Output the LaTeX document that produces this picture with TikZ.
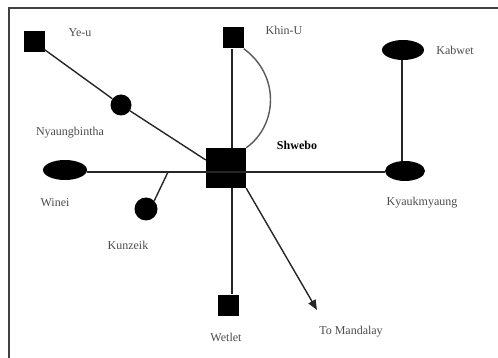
\documentclass[tikz,border=0pt]{standalone}
\usepackage{fontspec}
\setmainfont{Liberation Serif}
\usetikzlibrary{arrows.meta, shapes.geometric}

\tikzset{
  sq/.style={rectangle, fill=black, minimum size=21pt, inner sep=0pt},
  bigsq/.style={rectangle, fill=black, minimum size=40pt, inner sep=0pt},
  dot/.style={circle, fill=black, minimum size=21pt, inner sep=0pt},
  oval/.style={ellipse, fill=black, minimum width=42pt, minimum height=20pt, inner sep=0pt},
  lbl/.style={font=\fontsize{12}{14}\selectfont, text=black!70, inner sep=0pt},
  road/.style={line width=1.4pt, black!85}
}

\begin{document}
\begin{tikzpicture}[x=1pt, y=-1pt]
  \useasboundingbox (0,0) rectangle (498,358);

  % Frame
  \draw[line width=1.4pt, black!75] (9,358) -- (9,8) -- (498,8);

  % Towns
  \node[bigsq] (shwebo) at (226,168) {};
  \node[sq] (yeu) at (34,42) {};
  \node[dot] (nyaung) at (121,105) {};
  \node[sq] (khinu) at (233,38) {};
  \node[oval, minimum width=42pt] (kabwet) at (403,50) {};
  \node[oval, minimum width=40pt] (kyauk) at (405,171) {};
  \node[oval, minimum width=44pt] (winei) at (65,170) {};
  \node[dot, minimum height=23pt] (kunzeik) at (146,209) {};
  \node[sq] (wetlet) at (228,305) {};
  \coordinate (mandalay) at (317,310);
  \coordinate (fork) at (168,172);

  % Names
  \node[lbl] (yeu-l) at (80,33) {Ye-u};
  \node[lbl] (nyaung-l) at (70,133) {Nyaungbintha};
  \node[lbl] (khinu-l) at (284,30) {Khin-U};
  \node[lbl] (kabwet-l) at (455,50) {Kabwet};
  \node[lbl, text=black, font=\fontsize{12}{14}\selectfont\bfseries] (shwebo-l) at (297,145) {Shwebo};
  \node[lbl] (winei-l) at (55,203) {Winei};
  \node[lbl] (kunzeik-l) at (128,245) {Kunzeik};
  \node[lbl] (kyauk-l) at (422,203) {Kyaukmyaung};
  \node[lbl] (wetlet-l) at (226,337) {Wetlet};
  \node[lbl] (mandalay-l) at (351,332) {To Mandalay};

  % Roads
  \draw[road] (yeu) -- (nyaung) -- (shwebo.north west |- 0,160);
  \draw[road] (khinu.south -| 232,0) -- (shwebo.north -| 232,0);
  \draw[road, black!65] (khinu.south east) .. controls (280,75) and (278,125) .. (shwebo.north east);
  \draw[road] (shwebo.south -| 232,0) -- (wetlet.north -| 232,0);
  \draw[road] (winei.east |- fork) -- (kyauk.west |- fork);
  \draw[road] (kabwet.south -| 402,0) -- (kyauk.north -| 402,0);
  \draw[road] (kunzeik.north east) -- (fork);
  \draw[road, -{Triangle[length=10pt, width=8pt]}] (shwebo.south east) -- (mandalay);

\end{tikzpicture}
\end{document}
